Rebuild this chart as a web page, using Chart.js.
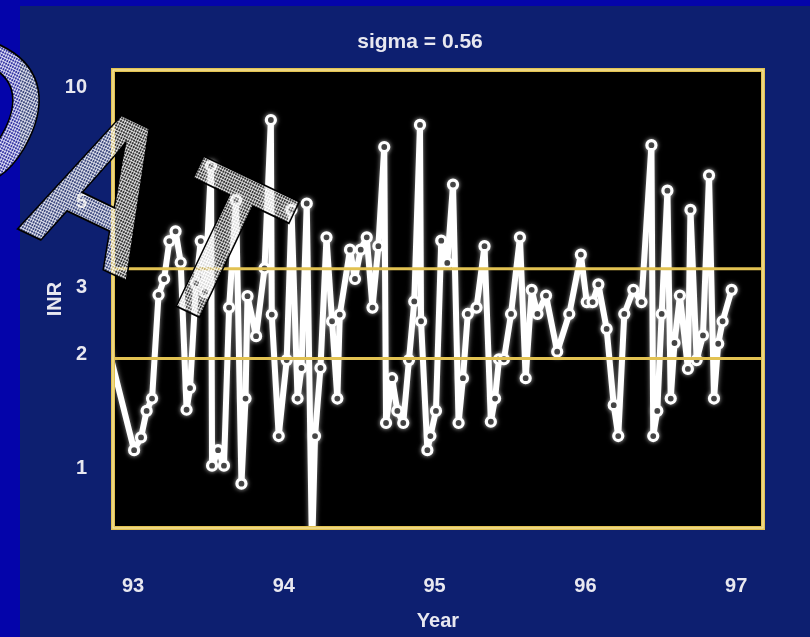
<!DOCTYPE html>
<html>
<head>
<meta charset="utf-8">
<script src="https://cdn.jsdelivr.net/npm/chart.js@4.4.1/dist/chart.umd.min.js"></script>
<style>
  html, body { margin: 0; padding: 0; background: #0d1f70; }
  #wrap { width: 810px; height: 637px; }
</style>
</head>
<body>
<div id="wrap"><canvas id="inrChart" width="810" height="637"></canvas></div>
<script>
// INR 측정값 (x = 연도, y = INR)
const years = [
    92.781, 93.007, 93.053, 93.090, 93.126, 93.169, 93.206, 93.241, 93.282, 93.316,
    93.355, 93.378, 93.418, 93.449, 93.477, 93.517, 93.524, 93.564, 93.603, 93.637,
    93.683, 93.719, 93.746, 93.759, 93.816, 93.872, 93.914, 93.920, 93.966, 94.019,
    94.051, 94.091, 94.117, 94.152, 94.187, 94.207, 94.243, 94.283, 94.320, 94.355,
    94.371, 94.439, 94.472, 94.510, 94.550, 94.588, 94.627, 94.666, 94.678, 94.718,
    94.753, 94.792, 94.830, 94.865, 94.903, 94.910, 94.952, 94.972, 95.009, 95.044,
    95.084, 95.122, 95.159, 95.188, 95.220, 95.278, 95.331, 95.373, 95.401, 95.427,
    95.460, 95.507, 95.566, 95.604, 95.644, 95.682, 95.739, 95.813, 95.893, 95.970,
    96.009, 96.048, 96.086, 96.141, 96.188, 96.218, 96.258, 96.318, 96.372, 96.438,
    96.450, 96.477, 96.506, 96.544, 96.566, 96.591, 96.627, 96.680, 96.697, 96.738,
    96.780, 96.820, 96.853, 96.881, 96.910, 96.970
];
const inrValues = [
    2.54, 1.12, 1.21, 1.42, 1.53, 2.86, 3.15, 3.96, 4.20, 3.48,
    1.43, 1.63, 3.07, 3.96, 2.91, 6.24, 1.02, 1.12, 1.02, 2.65,
    5.07, 0.915, 1.53, 2.84, 2.23, 3.36, 8.23, 2.54, 1.22, 1.93,
    4.78, 1.53, 1.84, 4.97, 0.60, 1.22, 1.84, 4.05, 2.44, 1.53,
    2.54, 3.76, 3.15, 3.76, 4.05, 2.65, 3.84, 6.99, 1.32, 1.73,
    1.42, 1.32, 1.93, 2.75, 7.99, 2.44, 1.12, 1.22, 1.42, 3.97,
    3.47, 5.57, 1.32, 1.73, 2.55, 2.65, 3.84, 1.33, 1.53, 1.94,
    1.94, 2.55, 4.05, 1.73, 2.95, 2.55, 2.85, 2.03, 2.55, 3.65,
    2.74, 2.74, 3.05, 2.33, 1.47, 1.22, 2.55, 2.95, 2.74, 7.07,
    1.22, 1.42, 2.55, 5.37, 1.53, 2.14, 2.85, 1.83, 4.78, 1.93,
    2.24, 5.89, 1.53, 2.13, 2.44, 2.95
];
const yearTicks = [93, 94, 95, 96, 97];
const inrTicks = [1, 2, 3, 5, 10];
const rangeLimits = [1.95, 3.35];
const titleText = 'sigma = 0.56';
const watermarkLetters = ['D', 'A', 'T'];

const xMin = 92.867, xMax = 97.178;
const yMin = 0.744, yMax = 11.13;

const labelColor = '#e8e8f0';
const yellow = '#e2c252';
const labelFont = { family: '"Liberation Sans Narrow", "Liberation Sans", Arial', size: 20, weight: 'bold' };

// 배경 (파란 슬라이드 + 검은 플롯 영역)
const backgroundPlugin = {
    id: 'slideBackground',
    beforeDraw(chart) {
        const ctx = chart.ctx;
        const ca = chart.chartArea;
        ctx.save();
        ctx.fillStyle = '#0404aa';
        ctx.fillRect(0, 0, chart.width, chart.height);
        ctx.fillStyle = '#0d1f70';
        ctx.fillRect(20, 6, chart.width - 20, chart.height - 6);
        ctx.fillStyle = '#000';
        ctx.fillRect(ca.left, ca.top, ca.right - ca.left, ca.bottom - ca.top);
        ctx.restore();
    }
};

// 흰 선에 살짝 번지는 효과
const glowPlugin = {
    id: 'lineGlow',
    beforeDatasetDraw(chart, args) {
        if (args.index !== 0) return;
        chart.ctx.save();
        chart.ctx.shadowColor = 'rgba(255,255,255,0.55)';
        chart.ctx.shadowBlur = 5;
    },
    afterDatasetDraw(chart, args) {
        if (args.index !== 0) return;
        chart.ctx.restore();
    }
};

// 플롯 테두리
const framePlugin = {
    id: 'plotFrame',
    afterDatasetsDraw(chart) {
        const ctx = chart.ctx;
        const ca = chart.chartArea;
        ctx.save();
        ctx.strokeStyle = yellow;
        ctx.lineWidth = 4;
        ctx.strokeRect(ca.left, ca.top, ca.right - ca.left, ca.bottom - ca.top);
        ctx.strokeStyle = 'rgba(255,245,200,0.8)';
        ctx.lineWidth = 1;
        ctx.strokeRect(ca.left, ca.top, ca.right - ca.left, ca.bottom - ca.top);
        ctx.restore();
    }
};

// 제목
const titlePlugin = {
    id: 'sigmaTitle',
    afterDraw(chart) {
        const ctx = chart.ctx;
        ctx.save();
        ctx.font = 'bold 21px "Liberation Sans Narrow", "Liberation Sans", Arial';
        ctx.fillStyle = labelColor;
        ctx.textAlign = 'center';
        ctx.textBaseline = 'middle';
        ctx.fillText(titleText, 420, 42);
        ctx.restore();
    }
};

// 워터마크 글자
const watermarkPlugin = {
    id: 'watermark',
    afterDraw(chart) {
        const ctx = chart.ctx;
        const tile = document.createElement('canvas');
        tile.width = 3;
        tile.height = 3;
        const tc = tile.getContext('2d');
        tc.fillStyle = 'rgba(255,255,255,0.8)';
        tc.fillRect(0, 0, 3, 1);
        tc.fillRect(0, 0, 1, 3);
        tc.fillStyle = 'rgba(150,150,150,0.35)';
        tc.fillRect(1, 1, 2, 2);
        const pattern = ctx.createPattern(tile, 'repeat');
        const spots = [[-55, 182], [72, 255], [188, 312]];

        watermarkLetters.forEach(function (letter, i) {
            ctx.save();
            ctx.translate(spots[i][0], spots[i][1]);
            ctx.rotate(25.5 * Math.PI / 180);
            ctx.scale(0.84, 1);
            ctx.font = 'bold 214px "Liberation Sans", Arial';
            ctx.textAlign = 'center';
            ctx.textBaseline = 'alphabetic';
            ctx.fillStyle = pattern;
            ctx.fillText(letter, 0, 0);
            ctx.strokeStyle = '#000';
            ctx.lineWidth = 1.8;
            ctx.strokeText(letter, 0, 0);
            ctx.restore();
        });
    }
};

const limitSets = rangeLimits.map(function (lim) {
    return {
        data: [{ x: xMin, y: lim }, { x: xMax, y: lim }],
        borderColor: yellow,
        borderWidth: 3,
        pointRadius: 0,
        order: 0
    };
});

new Chart(document.getElementById('inrChart'), {
    type: 'line',
    data: {
        datasets: [{
            data: years.map((x, i) => ({ x: x, y: inrValues[i] })),
            borderColor: '#ffffff',
            borderWidth: 6,
            borderJoinStyle: 'round',
            borderCapStyle: 'round',
            tension: 0,
            pointRadius: ctx => ctx.dataIndex === 0 ? 0 : 4.5,
            pointBackgroundColor: '#000',
            pointBorderColor: '#ffffff',
            pointBorderWidth: 3.2,
            order: 1
        }].concat(limitSets)
    },
    options: {
        responsive: false,
        animation: false,
        devicePixelRatio: 1,
        layout: { padding: { top: 70, right: 47, left: 0, bottom: 0 } },
        plugins: {
            legend: { display: false },
            tooltip: { enabled: false },
            title: { display: false }
        },
        scales: {
            x: {
                type: 'linear',
                min: xMin,
                max: xMax,
                afterBuildTicks: s => { s.ticks = yearTicks.map(v => ({ value: v })); },
                afterFit: s => { s.height = 109; },
                grid: { display: false, drawTicks: false },
                border: { display: false },
                ticks: {
                    color: labelColor,
                    font: labelFont,
                    padding: 46,
                    maxRotation: 0,
                    callback: v => String(v)
                },
                title: {
                    display: true,
                    text: 'Year',
                    color: labelColor,
                    font: labelFont,
                    padding: { top: 0, bottom: 4 }
                }
            },
            y: {
                type: 'logarithmic',
                min: yMin,
                max: yMax,
                afterBuildTicks: s => { s.ticks = inrTicks.map(v => ({ value: v })); },
                afterFit: s => { s.width = 113; },
                grid: { display: false, drawTicks: false },
                border: { display: false },
                ticks: {
                    color: labelColor,
                    font: labelFont,
                    padding: 26,
                    callback: v => String(v)
                },
                title: {
                    display: true,
                    text: 'INR',
                    color: labelColor,
                    font: labelFont,
                    padding: { top: 43, bottom: 0 }
                }
            }
        }
    },
    plugins: [backgroundPlugin, glowPlugin, framePlugin, titlePlugin, watermarkPlugin]
});
</script>
</body>
</html>
